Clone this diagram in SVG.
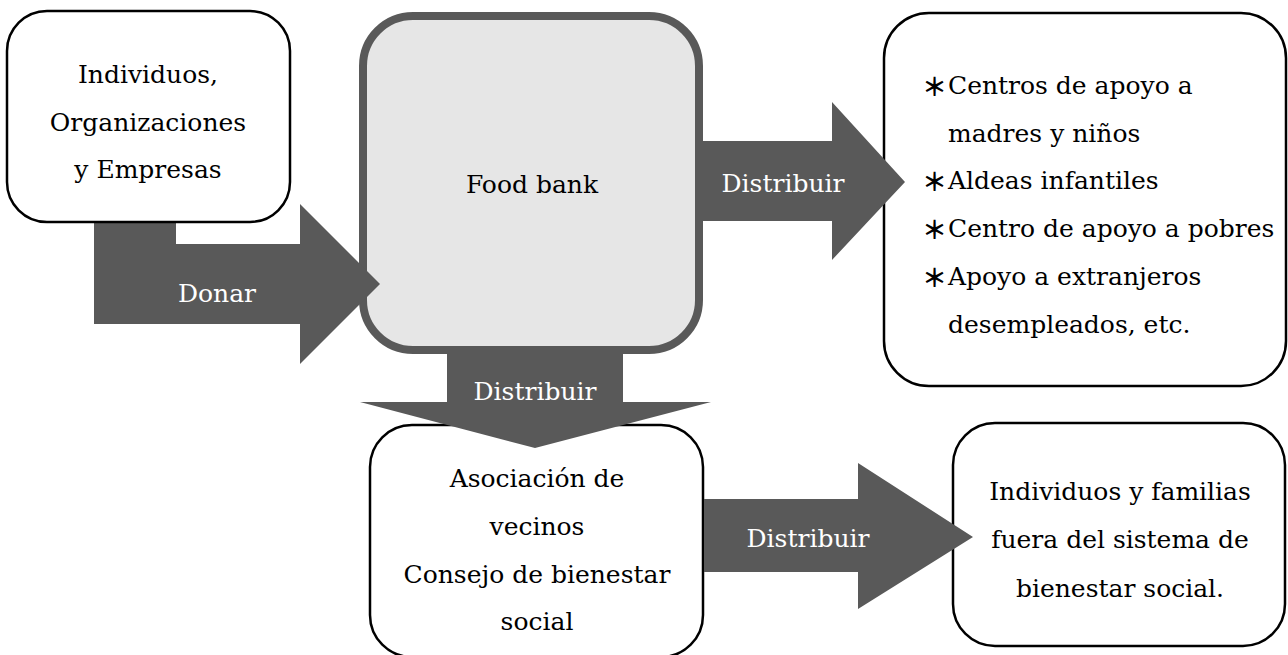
<svg xmlns="http://www.w3.org/2000/svg" width="1288" height="655" viewBox="0 0 1288 655">
<style>
text{font-family:"DejaVu Serif","Liberation Serif","Noto Sans CJK JP",serif;font-size:25px;fill:#000}
.c{text-anchor:middle}
.w{fill:#fff}
.a{font-family:"Noto Sans CJK JP",sans-serif;font-weight:bold}
.box{fill:#fff;stroke:#000;stroke-width:2.5}
.fb{fill:#e6e6e6;stroke:#595959;stroke-width:8}
.arr{fill:#595959;stroke:none}
</style>
<rect width="1288" height="655" fill="#fff"/>
<g id="food-bank">
<rect class="fb" x="363" y="16" width="336" height="334" rx="50"/>
<text class="c" x="532" y="193">Food bank</text>
</g>
<g id="destinatarios">
<rect class="box" x="884" y="13" width="402" height="373" rx="45"/>
<text class="a" x="922" y="96">＊</text><text x="948" y="94">Centros de apoyo a</text>
<text x="948" y="142">madres y niños</text>
<text class="a" x="922" y="191">＊</text><text x="948" y="189">Aldeas infantiles</text>
<text class="a" x="922" y="239">＊</text><text x="948" y="237">Centro de apoyo a pobres</text>
<text class="a" x="922" y="287">＊</text><text x="948" y="285">Apoyo a extranjeros</text>
<text x="948" y="333">desempleados, etc.</text>
</g>
<g id="asociacion">
<rect class="box" x="370" y="425" width="333" height="232" rx="42"/>
<text class="c" x="537" y="487">Asociación de</text>
<text class="c" x="537" y="535">vecinos</text>
<text class="c" x="537" y="583">Consejo de bienestar</text>
<text class="c" x="537" y="630">social</text>
</g>
<g id="familias">
<rect class="box" x="953" y="423" width="332" height="223" rx="42"/>
<text class="c" x="1120" y="500">Individuos y familias</text>
<text class="c" x="1120" y="548">fuera del sistema de</text>
<text class="c" x="1120" y="597">bienestar social.</text>
</g>
<g id="connectors">
<polygon class="arr" points="94,223 176,223 176,244 300,244 300,204 380,284 300,364 300,324 94,324"/>
<text class="c w" x="217" y="302">Donar</text>
<polygon class="arr" points="703,141 832,141 832,102 905,182 832,260 832,221 703,221"/>
<text class="c w" x="783" y="192">Distribuir</text>
<polygon class="arr" points="447,354 623,354 623,402 711,402 535,448 360,402 447,402"/>
<text class="c w" x="535" y="400">Distribuir</text>
<polygon class="arr" points="704,499 858,499 858,463 973,537 858,609 858,572 704,572"/>
<text class="c w" x="808" y="547">Distribuir</text>
</g>
<g id="donantes">
<rect class="box" x="7" y="11" width="283" height="211" rx="40"/>
<text class="c" x="148" y="83">Individuos,</text>
<text class="c" x="148" y="131">Organizaciones</text>
<text class="c" x="148" y="178">y Empresas</text>
</g>
</svg>
